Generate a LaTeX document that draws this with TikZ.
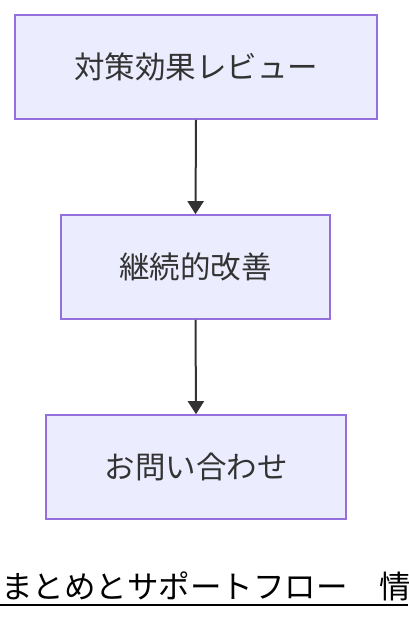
\documentclass[tikz,border=0pt]{standalone}
\usepackage{fontspec}
\newfontfamily\cjk{Noto Sans CJK JP}
\usetikzlibrary{arrows.meta}
\definecolor{boxfill}{HTML}{ECECFF}
\definecolor{boxdraw}{HTML}{9370DB}
\definecolor{txt}{HTML}{333333}
\tikzset{
  flowbox/.style={draw=boxdraw, fill=boxfill, line width=1.6pt, minimum height=104pt, inner sep=0pt, text=txt, font=\cjk\fontsize{30.5}{36}\selectfont},
  flowarrow/.style={draw=txt, line width=2pt, -{Triangle[width=16pt,length=13pt]}}
}
\begin{document}
\begin{tikzpicture}[x=1pt,y=-1pt]
\useasboundingbox (0,0) rectangle (408,620);
\node[flowbox, minimum width=362pt] (a) at (196,67) {対策効果レビュー};
\node[flowbox, minimum width=269pt] (b) at (195.5,267) {継続的改善};
\node[flowbox, minimum width=300pt] (c) at (196,467) {お問い合わせ};
\draw[flowarrow] (a.south) -- (b.north);
\draw[flowarrow] (b.south) -- (c.north);
\node[anchor=base west, inner sep=0pt, font=\cjk\fontsize{31.5}{36}\selectfont, text=black] (t) at (1,598) {まとめとサポートフロー　情};
\coordinate (ul) at (0,605);
\coordinate (ur) at (408,605);
\draw[line width=2pt, black] (ul) -- (ur);
\end{tikzpicture}
\end{document}
